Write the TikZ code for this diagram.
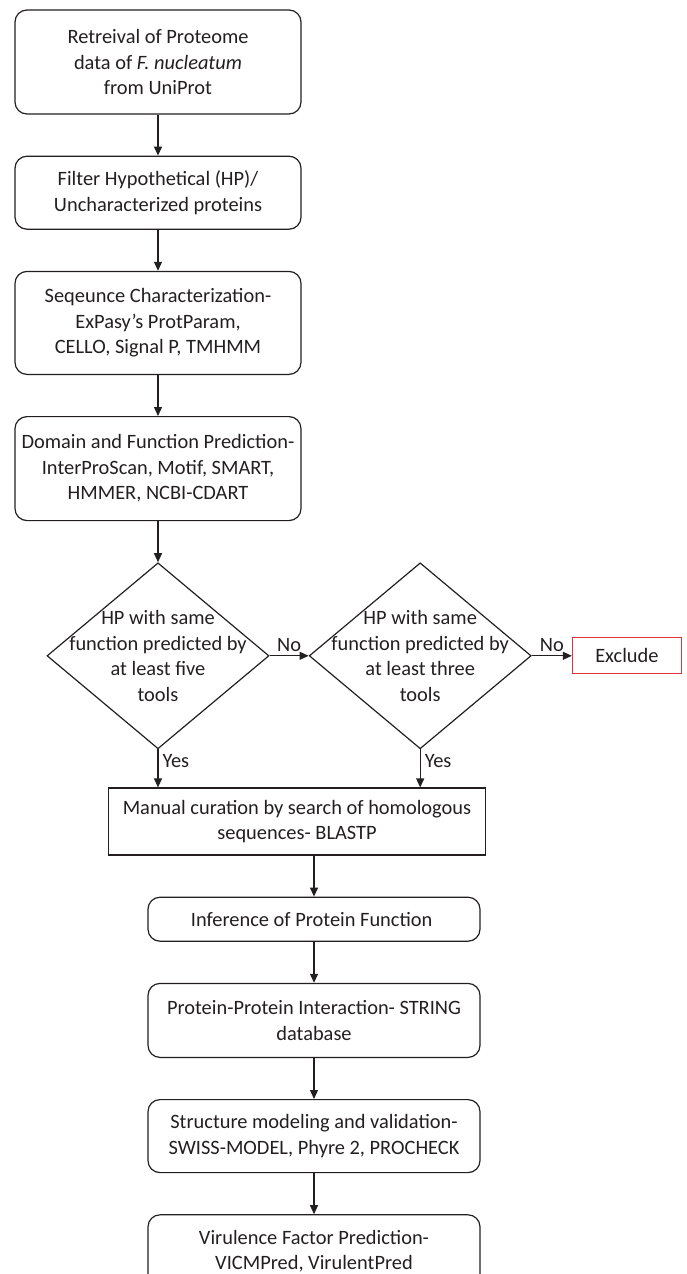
\documentclass[tikz,border=0pt]{standalone}
\usepackage{fontspec}
\setmainfont{Carlito}
\usepackage{xcolor}
\usepackage{tikz}
\usetikzlibrary{
  arrows.meta,
  positioning,
  shapes.geometric
}
\definecolor{inkgray}{RGB}{35,31,32}
\definecolor{excludered}{RGB}{222,52,62}
\tikzset{
  stepbase/.style={
    draw=inkgray,
    text=inkgray,
    line width=0.6pt,
    align=center,
    inner sep=2pt,
    font=\fontsize{10.2pt}{12.8pt}\selectfont
  },
  roundbox/.style={stepbase,rounded corners=6pt},
  squarebox/.style={stepbase},
  decision/.style={
    diamond,
    draw=inkgray,
    line width=0.6pt,
    minimum width=111pt,
    minimum height=93pt,
    inner sep=0pt
  },
  decisiontext/.style={
    text=inkgray,
    align=center,
    font=\fontsize{10.2pt}{12.8pt}\selectfont
  },
  flowarrow/.style={-{Triangle[length=4.5pt,width=4pt]},line width=0.6pt,draw=inkgray},
  edgelabel/.style={text=inkgray,font=\fontsize{10.2pt}{12pt}\selectfont,inner sep=2pt},
}

\begin{document}
\begin{tikzpicture}[node distance=20.5pt]
  \useasboundingbox (0,0) rectangle (343pt,-637pt);
  % first column
  \node[roundbox,minimum width=143pt,minimum height=52pt] (retrieve) at (79pt,-31pt) {
    Retreival of Proteome\\
    data of \textit{F. nucleatum}\\
    from UniProt
  };
  \node[roundbox,minimum width=143pt,minimum height=36.5pt,below=of retrieve] (filter) {
    Filter Hypothetical (HP)/\\
    Uncharacterized proteins
  };
  \node[roundbox,minimum width=143pt,minimum height=51.5pt,below=of filter] (sequence) {
    Seqeunce Characterization-\\
    ExPasy's ProtParam,\\
    CELLO, Signal P, TMHMM
  };
  \node[roundbox,minimum width=143pt,minimum height=52pt,below=of sequence] (domain) {
    Domain and Function Prediction-\\
    InterProScan, Motif, SMART,\\
    HMMER, NCBI-CDART
  };
  % decisions
  \node[decision,below=of domain,
    label={[decisiontext]center:HP with same\\function predicted by\\at least five\\tools}] (five) {};
  \node[decision,right=19.5pt of five,
    label={[decisiontext]center:HP with same\\function predicted by\\at least three\\tools}] (three) {};
  \node[squarebox,draw=excludered,minimum width=54.5pt,minimum height=18pt,right=20pt of three] (exclude) {Exclude};
  % second column
  \node[squarebox,minimum width=188.5pt,minimum height=33.5pt,below=19pt of five,xshift=69.5pt] (manual) {
    Manual curation by search of homologous\\
    sequences- BLASTP
  };
  \node[roundbox,minimum width=166pt,minimum height=22pt,below=of manual,xshift=8.5pt] (inference) {
    Inference of Protein Function
  };
  \node[roundbox,minimum width=166pt,minimum height=37pt,below=of inference] (interaction) {
    Protein-Protein Interaction- STRING\\
    database
  };
  \node[roundbox,minimum width=166pt,minimum height=36.5pt,below=of interaction] (structure) {
    Structure modeling and validation-\\
    SWISS-MODEL, Phyre 2, PROCHECK
  };
  \node[roundbox,minimum width=166pt,minimum height=36.5pt,below=of structure] (virulence) {
    Virulence Factor Prediction-\\
    VICMPred, VirulentPred
  };

  \draw[flowarrow] (retrieve) -- (filter);
  \draw[flowarrow] (filter) -- (sequence);
  \draw[flowarrow] (sequence) -- (domain);
  \draw[flowarrow] (domain) -- (five);
  \draw[flowarrow] (five.east) -- node[edgelabel,above] {No} (three.west);
  \draw[flowarrow] (three.east) -- node[edgelabel,above] {No} (exclude.west);
  \draw[flowarrow] (five.south) -- node[edgelabel,right,pos=0.3] {Yes} (five.south |- manual.north);
  \draw[flowarrow] (three.south) -- node[edgelabel,right,pos=0.3] {Yes} (three.south |- manual.north);
  \draw[flowarrow] (manual.south -| inference.north) -- (inference.north);
  \draw[flowarrow] (inference) -- (interaction);
  \draw[flowarrow] (interaction) -- (structure);
  \draw[flowarrow] (structure) -- (virulence);
\end{tikzpicture}
\end{document}
